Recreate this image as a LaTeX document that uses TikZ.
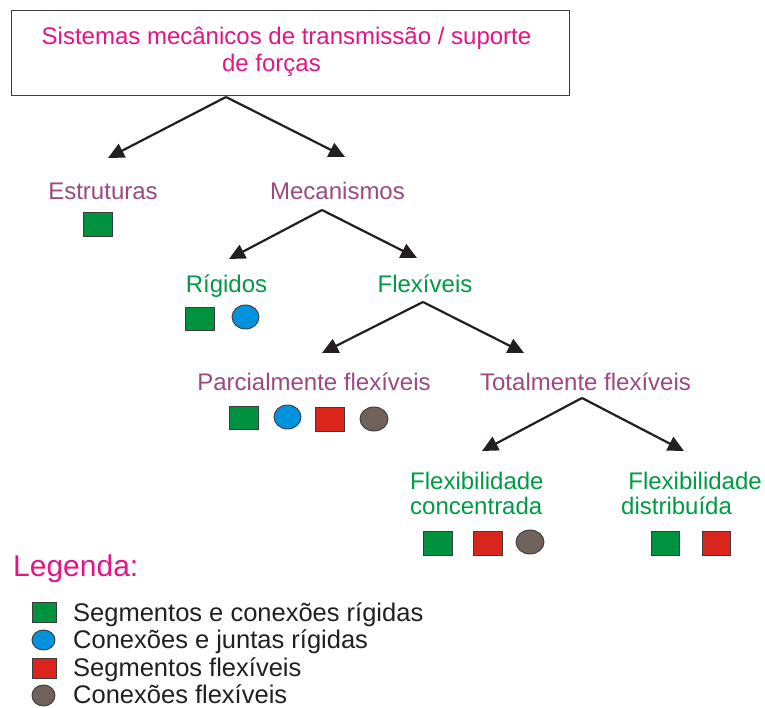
\documentclass[tikz,border=0pt]{standalone}
\usepackage{fontspec}
\setmainfont{Liberation Sans}
\usetikzlibrary{arrows.meta,calc}
\definecolor{ink}{RGB}{35,31,32}
\definecolor{edge}{RGB}{60,60,60}
\definecolor{magentaT}{RGB}{228,20,132}
\definecolor{purpleT}{RGB}{155,73,128}
\definecolor{greenT}{RGB}{0,154,68}
\definecolor{gSq}{RGB}{0,146,63}
\definecolor{bEl}{RGB}{0,146,221}
\definecolor{rSq}{RGB}{218,37,29}
\definecolor{gyEl}{RGB}{112,97,90}
\begin{document}
\begin{tikzpicture}[x=1pt,y=-1pt,
  lbl/.style={anchor=base,inner sep=0pt,font=\fontsize{24}{28}\selectfont},
  lblw/.style={anchor=base west,inner sep=0pt,font=\fontsize{24}{28}\selectfont},
  leg/.style={anchor=base west,inner sep=0pt,text=ink,font=\fontsize{25.5}{28}\selectfont},
  arr/.style={-{Triangle[length=16pt,width=15pt]},line width=2.2pt,draw=ink},
  shp/.style={draw=edge,line width=0.9pt}]
\useasboundingbox (0,0) rectangle (765,708);

% title box
\node[draw=edge,line width=1pt,minimum width=558pt,minimum height=85pt,inner sep=0pt] (title) at (290,53.5) {};
\node[lbl,text=magentaT] (t1) at (286.5,45) {Sistemas mecânicos de transmissão / suporte};
\node[lbl,text=magentaT] (t2) at (271.5,72) {de forças};

% level labels
\node[lbl,text=purpleT] (estr) at (103,200) {Estruturas};
\node[lbl,text=purpleT] (mec) at (337.5,200) {Mecanismos};
\node[lbl,text=greenT] (rig) at (226.5,293) {Rígidos};
\node[lbl,text=greenT] (flex) at (425,293) {Flexíveis};
\node[lbl,text=purpleT] (parc) at (314,390) {Parcialmente flexíveis};
\node[lbl,text=purpleT] (tot) at (585.5,390) {Totalmente flexíveis};
\node[lblw,text=greenT] (conc1) at (410,489) {Flexibilidade};
\node[lblw,text=greenT] (conc2) at (410,514) {concentrada};
\node[lblw,text=greenT,anchor=base east] (dist1) at (762,489) {Flexibilidade};
\node[lblw,text=greenT] (dist2) at (621,514) {distribuída};

% connector coordinates
\coordinate (o1) at (226,97);
\coordinate (a1l) at (108,158);
\coordinate (a1r) at (345,157);
\coordinate (o2) at (322,210);
\coordinate (a2l) at (229,259);
\coordinate (a2r) at (417,258);
\coordinate (o3) at (423,302);
\coordinate (a3l) at (322,353);
\coordinate (a3r) at (524,353);
\coordinate (o4) at (582,398);
\coordinate (a4l) at (482,451);
\coordinate (a4r) at (684,451);

\draw[arr] (o1) -- (a1l);
\draw[arr] (o1) -- (a1r);
\draw[arr] (o2) -- (a2l);
\draw[arr] (o2) -- (a2r);
\draw[arr] (o3) -- (a3l);
\draw[arr] (o3) -- (a3r);
\draw[arr] (o4) -- (a4l);
\draw[arr] (o4) -- (a4r);

% symbols
\draw[shp,fill=gSq] (83,212) rectangle (112,236);

\draw[shp,fill=gSq] (185,307) rectangle (214,330);
\draw[shp,fill=bEl] (245.5,317) ellipse [x radius=13.5,y radius=12];

\draw[shp,fill=gSq] (229,406) rectangle (258,429);
\draw[shp,fill=bEl] (287.5,417) ellipse [x radius=13.5,y radius=12];
\draw[shp,fill=rSq] (315,407) rectangle (344,431);
\draw[shp,fill=gyEl] (374,419) ellipse [x radius=14,y radius=12];

\draw[shp,fill=gSq] (423,531) rectangle (452,555);
\draw[shp,fill=rSq] (473,531) rectangle (502,555);
\draw[shp,fill=gyEl] (530,542) ellipse [x radius=14,y radius=12];

\draw[shp,fill=gSq] (651,531) rectangle (679,555);
\draw[shp,fill=rSq] (702,531) rectangle (730,555);

% legend
\node[anchor=base west,inner sep=0pt,text=magentaT,font=\fontsize{30}{32}\selectfont] (legt) at (13,576) {Legenda:};
\draw[shp,fill=gSq] (32,602) rectangle (56,622);
\draw[shp,fill=bEl] (43.5,640) ellipse [x radius=11.5,y radius=10];
\draw[shp,fill=rSq] (32,658) rectangle (56,678);
\draw[shp,fill=gyEl] (43.5,695.5) ellipse [x radius=11.5,y radius=10.5];
\node[leg] (l1) at (73,621) {Segmentos e conexões rígidas};
\node[leg] (l2) at (73,648.5) {Conexões e juntas rígidas};
\node[leg] (l3) at (73,676) {Segmentos flexíveis};
\node[leg] (l4) at (73,703.5) {Conexões flexíveis};
\end{tikzpicture}
\end{document}
